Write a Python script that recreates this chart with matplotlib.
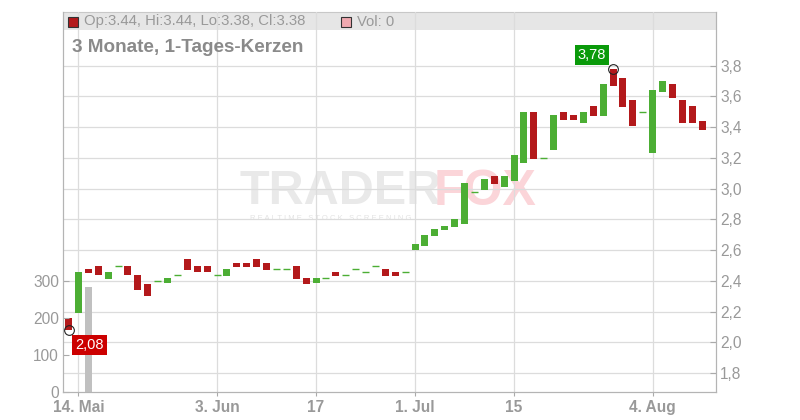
import numpy as np
import pandas as pd
import matplotlib
matplotlib.use("Agg")
import matplotlib.pyplot as plt
from matplotlib.patches import Rectangle

# trading days 13 May - 11 Aug 2025
DATES = pd.bdate_range("2025-05-13", "2025-08-11")

OPEN = [
    2.16, 2.19, 2.48, 2.50, 2.41, 2.50, 2.50, 2.44, 2.38, 2.40,
    2.39, 2.44, 2.54, 2.50, 2.50, 2.44, 2.43, 2.52, 2.52, 2.54,
    2.52, 2.48, 2.48, 2.50, 2.42, 2.39, 2.42, 2.46, 2.44, 2.48,
    2.46, 2.50, 2.48, 2.46, 2.46, 2.60, 2.63, 2.69, 2.73, 2.75,
    2.77, 2.98, 2.99, 3.08, 3.01, 3.05, 3.17, 3.50, 3.20, 3.25,
    3.50, 3.48, 3.43, 3.54, 3.47, 3.78, 3.72, 3.58, 3.50, 3.23,
    3.63, 3.68, 3.58, 3.54, 3.44,
]
CLOSE = [
    2.08, 2.46, 2.45, 2.44, 2.46, 2.50, 2.44, 2.34, 2.30, 2.40,
    2.42, 2.44, 2.47, 2.46, 2.46, 2.44, 2.48, 2.49, 2.49, 2.49,
    2.47, 2.48, 2.48, 2.41, 2.38, 2.42, 2.42, 2.43, 2.44, 2.48,
    2.46, 2.50, 2.43, 2.43, 2.46, 2.64, 2.70, 2.74, 2.76, 2.80,
    3.04, 2.98, 3.06, 3.03, 3.08, 3.22, 3.50, 3.19, 3.20, 3.48,
    3.45, 3.45, 3.50, 3.47, 3.68, 3.67, 3.53, 3.41, 3.50, 3.64,
    3.70, 3.59, 3.43, 3.43, 3.38,
]
VOLUME = [
    0, 0, 284, 0, 0, 0, 0, 0, 0, 0,
    0, 0, 0, 0, 0, 0, 0, 0, 0, 0,
    0, 0, 0, 0, 0, 0, 0, 0, 0, 0,
    0, 0, 0, 0, 0, 0, 0, 0, 0, 0,
    0, 0, 0, 0, 0, 0, 0, 0, 0, 0,
    0, 0, 0, 0, 0, 0, 0, 0, 0, 0,
    0, 0, 0, 0, 0,
]

PRICE_TICKS = [1.8, 2.0, 2.2, 2.4, 2.6, 2.8, 3.0, 3.2, 3.4, 3.6, 3.8]
VOLUME_TICKS = [0, 100, 200, 300]
DATE_TICKS = ["2025-05-14", "2025-06-03", "2025-06-17", "2025-07-01", "2025-07-15", "2025-08-04"]
DATE_LABELS = ["14. Mai", "3. Jun", "17", "1. Jul", "15", "4. Aug"]

GREEN = "#4cae34"
RED = "#b3191b"
GRAY_TXT = "#999999"
W, H = 800, 420

plt.rcParams["font.family"] = ["Liberation Sans", "DejaVu Sans"]
fig = plt.figure(figsize=(W / 100, H / 100), dpi=100)
ax = fig.add_axes([63 / W, 1 - 392 / H, (716 - 63) / W, (392 - 11.7) / H])
vax = ax.twinx()

x = np.arange(len(DATES))
o = np.array(OPEN)
c = np.array(CLOSE)
up = c > o
down = c < o
flat = c == o
ax.bar(x[up], (c - o)[up], bottom=o[up], width=0.7, color=GREEN, zorder=3)
ax.bar(x[down], (o - c)[down], bottom=c[down], width=0.7, color=RED, zorder=3)
ax.hlines(o[flat], x[flat] - 0.35, x[flat] + 0.35, color=GREEN, linewidth=1.0, zorder=3)

ax.set_xlim(-0.56, 65.4)
ax.set_ylim(1.678, 4.151)
ax.yaxis.tick_right()
ax.set_yticks(PRICE_TICKS, [f"{v:.1f}".replace(".", ",") for v in PRICE_TICKS])
tick_pos = [DATES.get_loc(pd.Timestamp(d)) for d in DATE_TICKS]
ax.set_xticks(tick_pos, DATE_LABELS)
for lab in ax.get_xticklabels():
    lab.set_fontweight("bold")
ax.tick_params(axis="y", direction="in", length=4, color="#aaaaaa",
               labelcolor=GRAY_TXT, labelsize=11.2, pad=3)
ax.tick_params(axis="x", direction="out", length=3, color="#aaaaaa",
               labelcolor=GRAY_TXT, labelsize=11.2, pad=3)
ax.grid(True, color="#dcdcdc", linewidth=0.9)
ax.set_axisbelow(True)
for s in ax.spines.values():
    s.set_color("#b4b4b4")
ax.spines["top"].set_visible(False)

# header band
ax.add_patch(Rectangle((0, 1 - (30 - 11.7) / 380.3), 1, (30 - 11.7) / 380.3,
                       transform=ax.transAxes, facecolor="#e6e6e6",
                       edgecolor="none", zorder=0.4, clip_on=False))
ax.plot([0, 1], [1, 1], transform=ax.transAxes, color="#c8c8c8", lw=0.8,
        zorder=0.45, clip_on=False)

# volume axis (left)
vax.yaxis.tick_left()
vax.bar(x, VOLUME, width=0.7, color="#c0c0c0", zorder=2)
vax.set_ylim(0, 1028)
vax.set_yticks(VOLUME_TICKS)
vax.tick_params(axis="y", direction="in", length=4, color="#aaaaaa",
                labelcolor=GRAY_TXT, labelsize=11.2, pad=3)
for s in vax.spines.values():
    s.set_color("#b4b4b4")
vax.spines["top"].set_visible(False)

# watermark
fx = lambda px: px / W
fy = lambda py: 1 - py / H
ax.text(fx(240), fy(192), "TRADER", transform=fig.transFigure, fontsize=35,
        fontweight="bold", color="#e9e9e9", va="center", ha="left", zorder=0.46)
ax.text(fx(434), fy(192), "FOX", transform=fig.transFigure, fontsize=36,
        fontweight="bold", color="#fbd5d9", va="center", ha="left", zorder=0.46)
ax.text(fx(250), fy(218), "R E A L T I M E   S T O C K   S C R E E N I N G",
        transform=fig.transFigure, fontsize=5.5, color="#e3e3e3",
        va="center", ha="left", zorder=0.46)

# high / low markers
i_lo = int(np.argmin(c))
i_hi = int(np.argmax(o))
vax.plot([i_lo, i_hi], [c[i_lo], o[i_hi]], "o", mfc="none", mec="#222222",
         ms=7, mew=0.8, zorder=5, transform=ax.transData)
vax.annotate(f"{c[i_lo]:.2f}".replace(".", ","), (i_lo, c[i_lo]), xycoords=ax.transData,
             xytext=(21, -15), textcoords="offset pixels", ha="center", va="center",
             color="white", fontsize=10.5, zorder=6,
             bbox=dict(boxstyle="square,pad=0.22", fc="#cc0000", ec="none"))
vax.annotate(f"{o[i_hi]:.2f}".replace(".", ","), (i_hi, o[i_hi]), xycoords=ax.transData,
             xytext=(-21, 14), textcoords="offset pixels", ha="center", va="center",
             color="white", fontsize=10.5, zorder=6,
             bbox=dict(boxstyle="square,pad=0.22", fc="#0a9a0a", ec="none"))

# header legend
fig.patches.append(Rectangle((fx(68.3), fy(26.7)), 10 / W, 10 / H, transform=fig.transFigure,
                             facecolor=RED, edgecolor="#333333", lw=0.8))
fig.text(fx(84), fy(21.5), f"Op:{OPEN[-1]:.2f}, Hi:{max(OPEN[-1], CLOSE[-1]):.2f}, "
         f"Lo:{min(OPEN[-1], CLOSE[-1]):.2f}, Cl:{CLOSE[-1]:.2f}",
         fontsize=10.7, color=GRAY_TXT, va="center")
fig.patches.append(Rectangle((fx(340.7), fy(26.7)), 10 / W, 10 / H, transform=fig.transFigure,
                             facecolor="#f0a9b0", edgecolor="#333333", lw=0.8))
fig.text(fx(357), fy(21.5), f"Vol: {VOLUME[-1]}", fontsize=10.7, color=GRAY_TXT, va="center")
fig.text(fx(72), fy(47.5), "3 Monate, 1-Tages-Kerzen", fontsize=13.6,
         fontweight="bold", color="#8a8a8a", va="center")

fig.savefig("out.png", dpi=100)
